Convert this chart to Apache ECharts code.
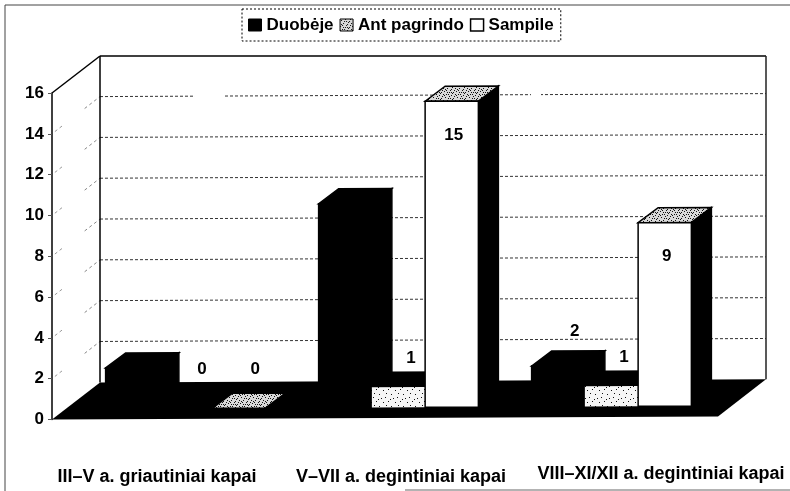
<!DOCTYPE html>
<html><head><meta charset="utf-8">
<style>html,body{margin:0;padding:0;background:#fff}#c{width:790px;height:491px}</style>
<script src="https://cdn.jsdelivr.net/npm/echarts@6/dist/echarts.min.js"></script>
</head><body><div id="c"></div>
<script>
const categories = ['III–V a. griautiniai kapai', 'V–VII a. degintiniai kapai', 'VIII–XI/XII a. degintiniai kapai'];
const duobeje = [2, 10, 2];
const antPagrindo = [0, 1, 1];
const sampile = [0, 15, 9];
const duobejeLabelShown = [false, false, true];
const yTicks = [0, 2, 4, 6, 8, 10, 12, 14, 16];

// 3-D frame geometry
const FRONT_L = 52, FRONT_R = 718, DEPTH = [48, -37], TILT = 0.0045;
const PLANE = [15, -10.5], BAR_DEPTH = [20, -15], BAR_FRAC = 0.25;
const P = (x, y) => [x, y - (x - FRONT_L) * TILT];

// fixed speckle tiles
function tile(bg, dots) {
  const c = document.createElement('canvas'); c.width = c.height = 12;
  const g = c.getContext('2d');
  g.fillStyle = bg; g.fillRect(0, 0, 12, 12);
  g.fillStyle = '#111';
  dots.forEach(d => g.fillRect(d[0], d[1], 1, 1));
  return { image: c, repeat: 'repeat' };
}
const spkLight = tile('#f6f6f6', [[1,1],[9,2],[4,5],[11,6],[2,9],[7,10],[6,3]]);
const spkDense = tile('#d8d8d8', [[1,1],[5,0],[9,2],[3,4],[7,5],[11,4],[0,7],[5,8],[9,8],[2,10],[7,11],[11,10],[4,2],[8,9],[1,5],[6,6],[10,0],[3,8],[6,2],[10,6],[0,11],[4,10],[8,3],[2,6],[7,8]]);

const faces = [
  { front: '#000', top: '#000', side: '#000', stroke: '#000' },
  { front: spkLight, top: '#000', side: '#000', stroke: null },
  { front: '#fff', top: spkDense, side: '#000', stroke: '#000' }
];
const poly = (pts, fill, stroke) => ({
  type: 'polygon', shape: { points: pts },
  style: { fill: fill, stroke: stroke || null, lineWidth: stroke ? 1.5 : 0 }
});

function barRenderer(s) {
  return function (params, api) {
    const v = api.value(1), idx = params.dataIndex;
    const base = api.coord([idx, 0]), topC = api.coord([idx, v]);
    const w = api.size([1, 0])[0] * BAR_FRAC;
    const xl = base[0] + (s - 1.5) * w + PLANE[0], xr = xl + w;
    const yb = base[1] + PLANE[1], yt = topC[1] + PLANE[1];
    const d = BAR_DEPTH, f = faces[s], ch = [];
    const a = P(xl, yt), b = P(xr, yt), c = P(xr, yb), e = P(xl, yb);
    const shift = p => [p[0] + d[0], p[1] + d[1]];
    ch.push(poly([b, shift(b), shift(c), c], f.side, s === 1 ? '#000' : f.stroke));
    ch.push(poly([a, shift(a), shift(b), b], f.top, s === 1 ? '#000' : f.stroke));
    if (v > 0) ch.push(poly([a, b, c, e], f.front, f.stroke));
    const show = s === 0 ? duobejeLabelShown[idx] : true;
    if (show) {
      const inside = s === 2 && v > 0;
      const dx = inside ? 2 : (v === 1 ? 12.5 : 16.5);
      const dy = inside ? 34 : (s === 0 ? -35 : (v === 1 ? -29 : -39));
      ch.push({ type: 'text', z2: 50, style: { x: (xl + xr) / 2 + dx, y: P(xl, yt)[1] + dy, text: String(v), fill: '#000',
        font: 'bold 17px "Liberation Sans"', align: 'center', verticalAlign: 'middle' } });
    }
    return { type: 'group', children: ch };
  };
}

function frameRenderer(params, api) {
  const Y = v => api.coord([0, v])[1];
  const BL = FRONT_L + DEPTH[0], BR = FRONT_R + DEPTH[0];
  const back = (x, v) => P(x, Y(v) + DEPTH[1]);
  const ch = [];
  const line = (p, q, stroke, w, dash) => ({ type: 'line', shape: { x1: p[0], y1: p[1], x2: q[0], y2: q[1] },
    style: { stroke: stroke, lineWidth: w, lineDash: dash || null } });
  yTicks.forEach(v => {
    if (v > 0 && v < 16) {
      ch.push(line([BL, back(BL, v)[1]], back(BR, v), '#333', 1, [3, 2]));
      const f = [FRONT_L, Y(v)], b = [BL, back(BL, v)[1]];
      const at = t => [f[0] + (b[0] - f[0]) * t, f[1] + (b[1] - f[1]) * t];
      ch.push(line(at(0.06), at(0.22), '#999', 1, [3, 3]));
      ch.push(line(at(0.68), at(1), '#888', 1, [3, 3]));
    }
  });
  // blank stretches of the 14 line, as printed
  [[195, 225], [531, 541]].forEach(g => ch.push(line(
    [g[0], back(g[0], 14)[1] + 1.5], [g[1], back(g[1], 14)[1] + 1.5], '#fff', 6)));
  ch.push(line([FRONT_L, Y(16)], [BL, Y(16) + DEPTH[1]], '#000', 1.5));
  ch.push(line([BL, Y(0) + DEPTH[1]], [BL, Y(16) + DEPTH[1]], '#000', 1.5));
  ch.push(line([BL, Y(16) + DEPTH[1]], [BR, Y(16) + DEPTH[1]], '#000', 1.5));
  ch.push(line([BR, Y(16) + DEPTH[1]], back(BR, 0), '#222', 1.5));
  ch.push(poly([[FRONT_L, Y(0)], [BL, Y(0) + DEPTH[1]], back(BR, 0), P(FRONT_R, Y(0))], '#000'));
  return { type: 'group', children: ch };
}

const seriesData = [duobeje, antPagrindo, sampile];
const names = ['Duobėje', 'Ant pagrindo', 'Sampile'];
const legendStyles = [
  { color: '#000', borderColor: '#000', borderWidth: 1 },
  { color: spkDense, borderColor: '#000', borderWidth: 1 },
  { color: '#fff', borderColor: '#000', borderWidth: 1.5 }
];
const catFont = { fontFamily: '"Liberation Sans"', fontWeight: 'bold', fontSize: 18, color: '#000' };

const chart = echarts.init(document.getElementById('c'), null, { renderer: 'canvas' });
chart.setOption({
  animation: false,
  backgroundColor: '#fff',
  textStyle: { fontFamily: '"Liberation Sans"' },
  grid: { left: 64, width: 639, top: 93, height: 326.5 },
  legend: {
    left: 242, top: 9, orient: 'horizontal', itemWidth: 13, itemHeight: 12, itemGap: 6,
    padding: [7.5, 7, 7.5, 6], selectedMode: false,
    borderColor: '#000', borderWidth: 1, borderType: [2, 2],
    textStyle: { fontFamily: '"Liberation Sans"', fontWeight: 'bold', fontSize: 17, color: '#000' },
    data: names.map((n, i) => ({ name: n, icon: 'rect', itemStyle: legendStyles[i] }))
  },
  xAxis: {
    type: 'category', data: categories,
    axisLine: { show: false }, axisTick: { show: false },
    axisLabel: {
      interval: 0, margin: 46, hideOverlap: false,
      formatter: (v, i) => `{l${i}|${v}}`,
      rich: {
        l0: Object.assign({ padding: [3, 27, 0, 0] }, catFont),
        l1: Object.assign({ padding: [3, 0, 0, 35] }, catFont),
        l2: Object.assign({ padding: [0, 0, 0, 129] }, catFont)
      }
    }
  },
  yAxis: {
    type: 'value', min: 0, max: 16, interval: 2, offset: 12,
    axisLine: { show: true, lineStyle: { color: '#000', width: 1.5 } },
    axisTick: { show: true, length: 4, lineStyle: { color: '#555', width: 1 } },
    axisLabel: { color: '#000', fontWeight: 'bold', fontSize: 17, margin: 8, fontFamily: '"Liberation Sans"',
      padding: [4, 0, 0, 0], formatter: v => String(v) },
    splitLine: { show: false }
  },
  graphic: [
    { type: 'polyline', silent: true, shape: { points: [[5, 491], [5, 5], [790, 5]] }, style: { stroke: '#444', lineWidth: 1, fill: null } },
    { type: 'line', silent: true, shape: { x1: 405, y1: 490, x2: 790, y2: 490 }, style: { stroke: '#666', lineWidth: 1 } }
  ],
  series: [
    { type: 'custom', name: 'frame', z: 1, silent: true, data: [[categories[0], 0]], clip: false,
      encode: { x: 0, y: 1 }, renderItem: frameRenderer }
  ].concat(seriesData.map((vals, s) => ({
    type: 'custom', name: names[s], z: 2 + s, silent: true, clip: false,
    itemStyle: { color: s === 1 ? '#ddd' : legendStyles[s].color },
    encode: { x: 0, y: 1 },
    data: categories.map((c, i) => [c, vals[i]]),
    renderItem: barRenderer(s)
  })))
});
</script></body></html>
